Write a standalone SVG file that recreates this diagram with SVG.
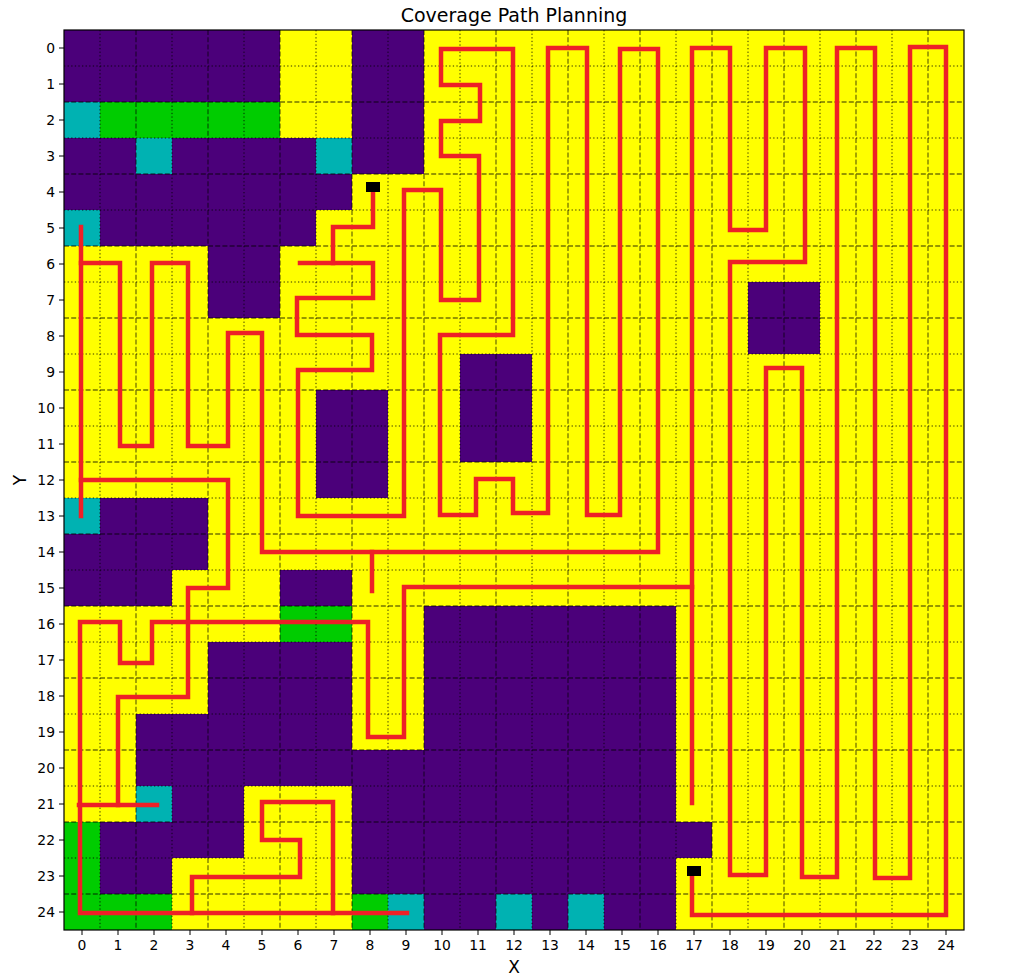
<svg xmlns="http://www.w3.org/2000/svg" width="1011" height="978" viewBox="0 0 1011 978">
<style>
.p{fill:#4B007A}.g{fill:#00CC00}.t{fill:#00B2B2}
.dash{stroke:#000;stroke-opacity:.55;stroke-width:1.3;stroke-dasharray:5,2.2;fill:none}
.dot{stroke:#000;stroke-opacity:.8;stroke-width:1;stroke-dasharray:1.3,2.3;fill:none}
.route{fill:none;stroke:#EE2027;stroke-width:4.5;stroke-linejoin:miter;stroke-linecap:square}
.tl{font-family:"DejaVu Sans",sans-serif;font-size:13.9px;fill:#000}
.al{font-family:"DejaVu Sans",sans-serif;font-size:17px;fill:#000}
.tk{stroke:#000;stroke-width:1}
</style>
<rect width="1011" height="978" fill="#fff"/>
<g id="map">
<rect x="64" y="30" width="900" height="900" fill="#FFFF00"/>
<rect class="p" x="64" y="30" width="216" height="72"/>
<rect class="p" x="352" y="30" width="72" height="144"/>
<rect class="p" x="64" y="138" width="72" height="36"/>
<rect class="p" x="172" y="138" width="144" height="36"/>
<rect class="p" x="64" y="174" width="288" height="36"/>
<rect class="p" x="100" y="210" width="216" height="36"/>
<rect class="p" x="208" y="246" width="72" height="72"/>
<rect class="p" x="748" y="282" width="72" height="72"/>
<rect class="p" x="460" y="354" width="72" height="108"/>
<rect class="p" x="316" y="390" width="72" height="108"/>
<rect class="p" x="100" y="498" width="108" height="36"/>
<rect class="p" x="64" y="534" width="144" height="36"/>
<rect class="p" x="64" y="570" width="108" height="36"/>
<rect class="p" x="280" y="570" width="72" height="36"/>
<rect class="p" x="424" y="606" width="252" height="288"/>
<rect class="p" x="208" y="642" width="144" height="72"/>
<rect class="p" x="136" y="714" width="216" height="36"/>
<rect class="p" x="136" y="750" width="288" height="36"/>
<rect class="p" x="172" y="786" width="72" height="36"/>
<rect class="p" x="352" y="786" width="72" height="108"/>
<rect class="p" x="100" y="822" width="144" height="36"/>
<rect class="p" x="676" y="822" width="36" height="36"/>
<rect class="p" x="100" y="858" width="72" height="36"/>
<rect class="p" x="424" y="894" width="72" height="36"/>
<rect class="p" x="532" y="894" width="36" height="36"/>
<rect class="p" x="604" y="894" width="72" height="36"/>
<rect class="g" x="100" y="102" width="180" height="36"/>
<rect class="g" x="280" y="606" width="72" height="36"/>
<rect class="g" x="64" y="822" width="36" height="72"/>
<rect class="g" x="64" y="894" width="108" height="36"/>
<rect class="g" x="352" y="894" width="36" height="36"/>
<rect class="t" x="64" y="102" width="36" height="36"/>
<rect class="t" x="136" y="138" width="36" height="36"/>
<rect class="t" x="316" y="138" width="36" height="36"/>
<rect class="t" x="64" y="210" width="36" height="36"/>
<rect class="t" x="64" y="498" width="36" height="36"/>
<rect class="t" x="136" y="786" width="36" height="36"/>
<rect class="t" x="388" y="894" width="36" height="36"/>
<rect class="t" x="496" y="894" width="36" height="36"/>
<rect class="t" x="568" y="894" width="36" height="36"/>
</g>
<g id="grid">
<path class="dot" d="M100 30V930M172 30V930M244 30V930M316 30V930M388 30V930M460 30V930M532 30V930M604 30V930M676 30V930M748 30V930M820 30V930M892 30V930M64 66H964M64 138H964M64 210H964M64 282H964M64 354H964M64 426H964M64 498H964M64 570H964M64 642H964M64 714H964M64 786H964M64 858H964"/>
<path class="dash" d="M136 30V930M208 30V930M280 30V930M352 30V930M424 30V930M496 30V930M568 30V930M640 30V930M712 30V930M784 30V930M856 30V930M928 30V930M64 102H964M64 174H964M64 246H964M64 318H964M64 390H964M64 462H964M64 534H964M64 606H964M64 678H964M64 750H964M64 822H964M64 894H964"/>
</g>
<g id="path">
<polyline class="route" points="373,190 373,227 333,227 333,263"/>
<polyline class="route" points="300,263 373,263 373,298 297,298 297,335 372,335 372,370 298,370 298,516 404,516 404,190 441,190 441,300 479,300 479,156 441,156 441,121 480,121 480,85 441,85 441,49 513,49 513,335 440,335 440,515 476,515 476,479 513,479 513,513 548,513 548,48 587,48 587,515 620,515 620,49 658,49 658,552 262,552 262,333 228,333 228,446 188,446 188,263 152,263 152,446 120,446 120,263 81,263"/>
<polyline class="route" points="81,227 81,516"/>
<polyline class="route" points="372,552 372,591"/>
<polyline class="route" points="81,480 228,480 228,588 188,588 188,697 118,697 118,805"/>
<polyline class="route" points="79,805 157,805"/>
<polyline class="route" points="692,587 404,587 404,737 368,737 368,622 152,622 152,663 120,663 120,622 80,622 80,913 407,913"/>
<polyline class="route" points="192,913 192,877 300,877 300,840 262,840 262,802 333,802 333,913"/>
<polyline class="route" points="692,803 692,48 730,48 730,230 766,230 766,48 805,48 805,262 730,262 730,875 766,875 766,368 802,368 802,877 837,877 837,48 875,48 875,878 910,878 910,47 946,47 946,915 692,915 692,873"/>
</g>
<g id="markers">
<rect x="366" y="182" width="14" height="10" fill="#000"/>
<rect x="687" y="866" width="14" height="10" fill="#000"/>
</g>
<g id="axes">
<rect x="64" y="30" width="900" height="900" fill="none" stroke="#000" stroke-width="1.2"/>
<path class="tk" d="M59 48H64M59 84H64M59 120H64M59 156H64M59 192H64M59 228H64M59 264H64M59 300H64M59 336H64M59 372H64M59 408H64M59 444H64M59 480H64M59 516H64M59 552H64M59 588H64M59 624H64M59 660H64M59 696H64M59 732H64M59 768H64M59 804H64M59 840H64M59 876H64M59 912H64"/>
<path class="tk" d="M82 930V935M118 930V935M154 930V935M190 930V935M226 930V935M262 930V935M298 930V935M334 930V935M370 930V935M406 930V935M442 930V935M478 930V935M514 930V935M550 930V935M586 930V935M622 930V935M658 930V935M694 930V935M730 930V935M766 930V935M802 930V935M838 930V935M874 930V935M910 930V935M946 930V935"/>
<g class="tl" text-anchor="end">
<text x="55" y="53">0</text><text x="55" y="89">1</text><text x="55" y="125">2</text><text x="55" y="161">3</text><text x="55" y="197">4</text><text x="55" y="233">5</text><text x="55" y="269">6</text><text x="55" y="305">7</text><text x="55" y="341">8</text><text x="55" y="377">9</text><text x="55" y="413">10</text><text x="55" y="449">11</text><text x="55" y="485">12</text><text x="55" y="521">13</text><text x="55" y="557">14</text><text x="55" y="593">15</text><text x="55" y="629">16</text><text x="55" y="665">17</text><text x="55" y="701">18</text><text x="55" y="737">19</text><text x="55" y="773">20</text><text x="55" y="809">21</text><text x="55" y="845">22</text><text x="55" y="881">23</text><text x="55" y="917">24</text>
</g>
<g class="tl" text-anchor="middle">
<text x="82" y="950">0</text><text x="118" y="950">1</text><text x="154" y="950">2</text><text x="190" y="950">3</text><text x="226" y="950">4</text><text x="262" y="950">5</text><text x="298" y="950">6</text><text x="334" y="950">7</text><text x="370" y="950">8</text><text x="406" y="950">9</text><text x="442" y="950">10</text><text x="478" y="950">11</text><text x="514" y="950">12</text><text x="550" y="950">13</text><text x="586" y="950">14</text><text x="622" y="950">15</text><text x="658" y="950">16</text><text x="694" y="950">17</text><text x="730" y="950">18</text><text x="766" y="950">19</text><text x="802" y="950">20</text><text x="838" y="950">21</text><text x="874" y="950">22</text><text x="910" y="950">23</text><text x="946" y="950">24</text>
</g>
<text class="al" x="514" y="973" text-anchor="middle">X</text>
<text class="al" x="26" y="480" text-anchor="middle" transform="rotate(-90 26 480)">Y</text>
<text x="514" y="22" text-anchor="middle" font-family="DejaVu Sans, sans-serif" font-size="19px" fill="#000">Coverage Path Planning</text>
</g>
</svg>
